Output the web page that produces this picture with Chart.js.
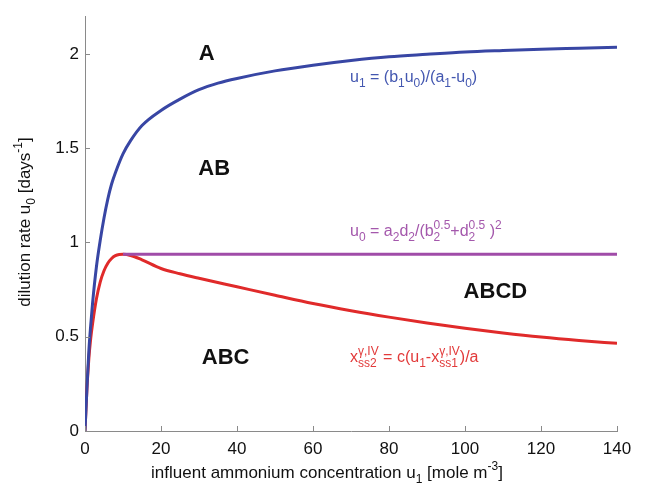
<!DOCTYPE html>
<html>
<head>
<meta charset="utf-8">
<script src="https://cdn.jsdelivr.net/npm/chart.js@4"></script>
<style>
  html, body { margin: 0; padding: 0; background: #fff; }
  #wrap { width: 647px; height: 487px; }
</style>
</head>
<body>
<div id="wrap"><canvas id="myChart" width="647" height="487"></canvas></div>
<script>
// values
const blueX = [0, 0.5, 1, 1.5, 2, 3, 4, 5, 6, 7, 8, 10, 12, 15, 20, 25, 30, 35, 40, 50, 60, 70, 80, 90, 100, 110, 120, 130, 140];
const blueY = [0, 0.22, 0.42, 0.56, 0.68, 0.87, 1.01, 1.13, 1.23, 1.31, 1.37, 1.47, 1.54, 1.62, 1.7, 1.76, 1.81, 1.845, 1.87, 1.91, 1.94, 1.965, 1.985, 1.998, 2.01, 2.018, 2.025, 2.03, 2.035];

const redX = [0, 0.5, 1, 1.5, 2, 3, 4, 5, 6, 7, 8, 9, 10, 12, 15, 20, 25, 30, 40, 50, 60, 70, 80, 90, 100, 110, 120, 130, 140];
const redY = [0, 0.22, 0.38, 0.49, 0.57, 0.7, 0.79, 0.85, 0.89, 0.915, 0.93, 0.936, 0.937, 0.931, 0.908, 0.862, 0.834, 0.81, 0.765, 0.72, 0.676, 0.638, 0.604, 0.573, 0.545, 0.52, 0.498, 0.48, 0.465];

const purpleX = [10, 140];
const purpleY = [0.937, 0.937];

const xTicks = [0, 20, 40, 60, 80, 100, 120, 140];
const yTicks = [0, 0.5, 1, 1.5, 2];

const regions = ["A", "AB", "ABC", "ABCD"];
const regionAt = [[32, 2.0], [34, 1.39], [37, 0.39], [108, 0.74]];

const pts = (xs, ys) => xs.map((x, i) => ({ x: x, y: ys[i] }));

const FONT = "'Liberation Sans', Arial, sans-serif";

// draw text with sub/superscripts: parts are [text, mode] where mode is
// "n", "sub", "sup" or "ss" (text is then [sub, sup])
function drawRich(ctx, parts, x, y, size, color) {
  ctx.save();
  ctx.fillStyle = color;
  ctx.textBaseline = "middle";
  ctx.textAlign = "left";
  const small = Math.round(size * 0.72);
  let cx = x;
  parts.forEach(([t, m]) => {
    if (m === "n") {
      ctx.font = size + "px " + FONT;
      ctx.fillText(t, cx, y);
      cx += ctx.measureText(t).width;
    } else if (m === "sub") {
      ctx.font = small + "px " + FONT;
      ctx.fillText(t, cx, y + size * 0.38);
      cx += ctx.measureText(t).width;
    } else if (m === "sup") {
      ctx.font = small + "px " + FONT;
      ctx.fillText(t, cx, y - size * 0.4);
      cx += ctx.measureText(t).width;
    } else {
      ctx.font = small + "px " + FONT;
      ctx.fillText(t[0], cx, y + size * 0.38);
      ctx.fillText(t[1], cx, y - size * 0.4);
      cx += Math.max(ctx.measureText(t[0]).width, ctx.measureText(t[1]).width);
    }
  });
  ctx.restore();
  return cx - x;
}

function richWidth(ctx, parts, size) {
  ctx.save();
  const small = Math.round(size * 0.72);
  let w = 0;
  parts.forEach(([t, m]) => {
    if (m === "n") { ctx.font = size + "px " + FONT; w += ctx.measureText(t).width; }
    else if (m === "ss") { ctx.font = small + "px " + FONT; w += Math.max(ctx.measureText(t[0]).width, ctx.measureText(t[1]).width); }
    else { ctx.font = small + "px " + FONT; w += ctx.measureText(t).width; }
  });
  ctx.restore();
  return w;
}

const xTitle = [["influent ammonium concentration u", "n"], ["1", "sub"], [" [mole m", "n"], ["-3", "sup"], ["]", "n"]];
const yTitle = [["dilution rate u", "n"], ["0", "sub"], [" [days", "n"], ["-1", "sup"], ["]", "n"]];
const eqBlue = [["u", "n"], ["1", "sub"], [" = (b", "n"], ["1", "sub"], ["u", "n"], ["0", "sub"], [")/(a", "n"], ["1", "sub"], ["-u", "n"], ["0", "sub"], [")", "n"]];
const eqPurple = [["u", "n"], ["0", "sub"], [" = a", "n"], ["2", "sub"], ["d", "n"], ["2", "sub"], ["/(b", "n"], [["2", "0.5"], "ss"], ["+d", "n"], [["2", "0.5"], "ss"], [" )", "n"], ["2", "sup"]];
const eqRed = [["x", "n"], [["ss2", "\u03b3,IV"], "ss"], [" = c(u", "n"], ["1", "sub"], ["-x", "n"], [["ss1", "\u03b3,IV"], "ss"], [")/a", "n"]];

const extras = {
  id: "extras",
  afterDraw(chart) {
    const ctx = chart.ctx;
    const xs = chart.scales.x, ys = chart.scales.y;
    const area = chart.chartArea;
    // inward tick marks
    ctx.save();
    ctx.strokeStyle = "#8a8a8a";
    ctx.lineWidth = 1;
    xTicks.forEach(v => {
      const px = Math.round(xs.getPixelForValue(v)) + 0.5;
      ctx.beginPath(); ctx.moveTo(px, area.bottom); ctx.lineTo(px, area.bottom - 5); ctx.stroke();
    });
    yTicks.forEach(v => {
      const py = Math.round(ys.getPixelForValue(v)) + 0.5;
      ctx.beginPath(); ctx.moveTo(area.left, py); ctx.lineTo(area.left + 5, py); ctx.stroke();
    });
    ctx.restore();

    // axis titles
    const xw = richWidth(ctx, xTitle, 17);
    drawRich(ctx, xTitle, 327 - xw / 2, 473, 17, "#111");
    ctx.save();
    ctx.translate(25, 222);
    ctx.rotate(-Math.PI / 2);
    const yw = richWidth(ctx, yTitle, 17);
    drawRich(ctx, yTitle, -yw / 2, 0, 17, "#111");
    ctx.restore();

    // curve equations
    drawRich(ctx, eqBlue, 350, 78, 16, "#4357b0");
    drawRich(ctx, eqPurple, 350, 232, 16, "#a458ac");
    drawRich(ctx, eqRed, 350, 358, 16, "#e23a3a");

    // region labels
    ctx.save();
    ctx.font = "bold 22px " + FONT;
    ctx.fillStyle = "#111";
    ctx.textAlign = "center";
    ctx.textBaseline = "middle";
    regions.forEach((r, i) => {
      ctx.fillText(r, xs.getPixelForValue(regionAt[i][0]), ys.getPixelForValue(regionAt[i][1]));
    });
    ctx.restore();
  }
};

const ctx = document.getElementById("myChart");
const grafico = new Chart(ctx, {
  type: "scatter",
  data: {
    datasets: [
      { data: pts(blueX, blueY), borderColor: "#3846a4", borderWidth: 3, showLine: true, pointRadius: 0, cubicInterpolationMode: "monotone" },
      { data: pts(purpleX, purpleY), borderColor: "#a04ca8", borderWidth: 3, showLine: true, pointRadius: 0 },
      { data: pts(redX, redY), borderColor: "#e02a2a", borderWidth: 3, showLine: true, pointRadius: 0, cubicInterpolationMode: "monotone" },
    ],
  },
  options: {
    responsive: false,
    animation: false,
    layout: { padding: { left: 0, top: 13, right: 30, bottom: 0 } },
    plugins: { legend: { display: false }, tooltip: { enabled: false } },
    scales: {
      x: {
        type: "linear",
        min: 0,
        max: 140,
        afterBuildTicks: s => { s.ticks = xTicks.map(v => ({ value: v })); },
        afterFit: s => { s.height = 56; },
        grid: { display: false, drawTicks: false },
        border: { display: true, color: "#8a8a8a", width: 1 },
        ticks: { padding: 8, color: "#111", font: { family: FONT, size: 17 }, maxRotation: 0, callback: v => String(v) },
      },
      y: {
        type: "linear",
        min: 0,
        max: 2.2,
        afterBuildTicks: s => { s.ticks = yTicks.map(v => ({ value: v })); },
        afterFit: s => { s.width = 85; },
        grid: { display: false, drawTicks: false },
        border: { display: true, color: "#8a8a8a", width: 1 },
        ticks: { padding: 6, color: "#111", font: { family: FONT, size: 17 }, callback: v => String(v) },
      },
    },
  },
  plugins: [extras],
});
</script>
</body>
</html>
